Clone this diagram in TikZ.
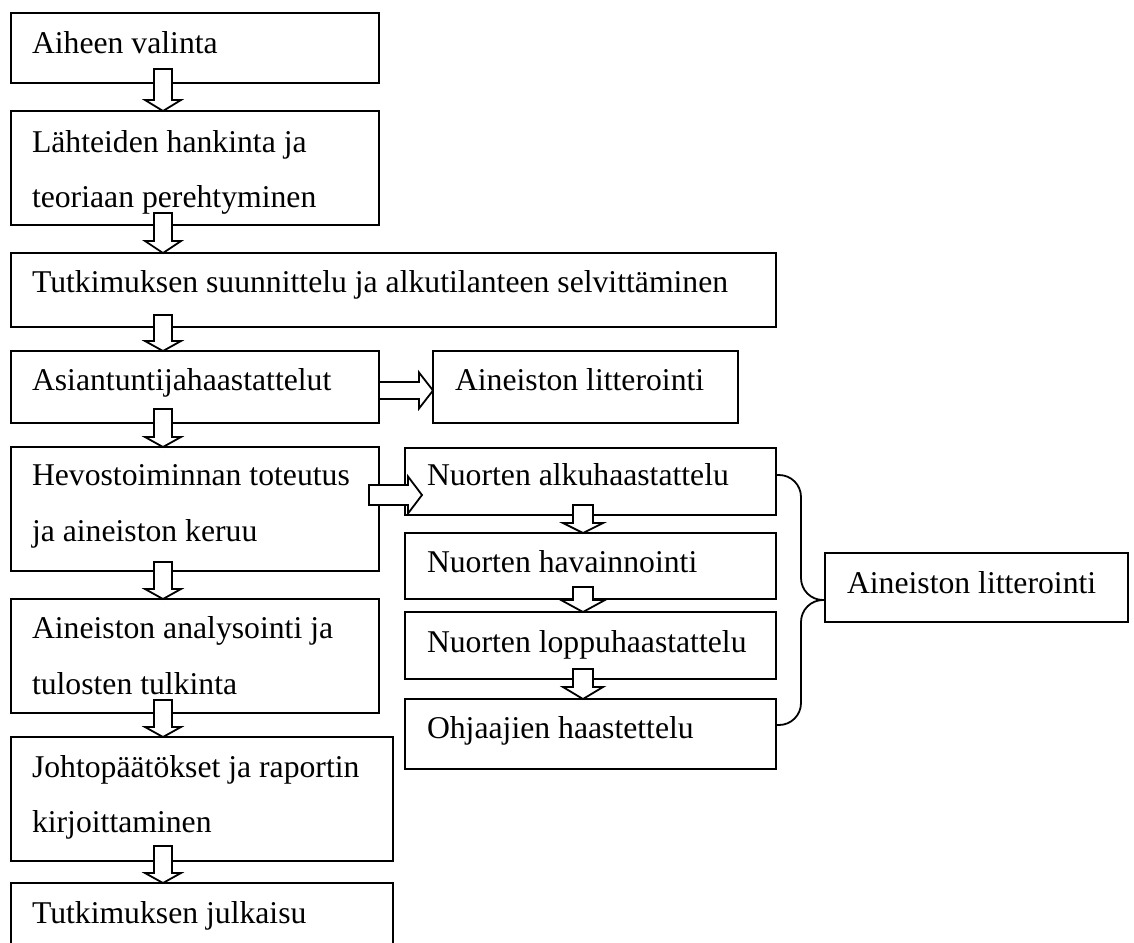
\documentclass[tikz,border=0pt]{standalone}
\usepackage{fontspec}
\setmainfont{Liberation Serif}
\usetikzlibrary{calc}
\begin{document}
\begin{tikzpicture}[x=1pt,y=1pt,
  box/.style={draw, line width=1.8pt, inner sep=0pt, outer sep=0pt, anchor=north west},
  txt/.style={anchor=base west, inner sep=0pt, outer sep=0pt, font=\fontsize{31.7pt}{38pt}\selectfont},
  blk/.style={draw, line width=1.8pt, fill=white, line join=miter},
  brc/.style={draw, line width=1.8pt, rounded corners=22pt},
  vblk/.style n args={4}{blk, to path={let \p1=(\tikztostart), \p2=(\tikztotarget) in
     (\x2-#1,\y1+#4) -- (\x2+#1,\y1+#4) -- (\x2+#1,\y2+#3) -- (\x2+#2,\y2+#3) -- (\x2,\y2)
     -- (\x2-#2,\y2+#3) -- (\x2-#1,\y2+#3) -- cycle}},
  hblk/.style n args={5}{blk, to path={let \p1=(\tikztostart), \p2=(\tikztotarget) in
     (\x1-#4,\y2-#1) -- (\x2+#5-#3,\y2-#1) -- (\x2+#5-#3,\y2-#2) -- (\x2+#5,\y2)
     -- (\x2+#5-#3,\y2+#2) -- (\x2+#5-#3,\y2+#1) -- (\x1-#4,\y2+#1) -- cycle}}
]
\useasboundingbox (0,0) rectangle (1134,-942);

% boxes
\node[box, minimum width=368pt, minimum height=70pt]  (b1) at (11,-13) {};
\node[box, minimum width=368pt, minimum height=114pt] (b2) at (11,-111) {};
\node[box, minimum width=765pt, minimum height=74pt]  (b3) at (11,-253) {};
\node[box, minimum width=368pt, minimum height=72pt]  (b4) at (11,-351) {};
\node[box, minimum width=305pt, minimum height=72pt]  (l1) at (433,-351) {};
\node[box, minimum width=368pt, minimum height=124pt] (b5) at (11,-447) {};
\node[box, minimum width=371pt, minimum height=67pt]  (r1) at (405,-448) {};
\node[box, minimum width=371pt, minimum height=66pt]  (r2) at (405,-533) {};
\node[box, minimum width=371pt, minimum height=67pt]  (r3) at (405,-612) {};
\node[box, minimum width=371pt, minimum height=70pt]  (r4) at (405,-699) {};
\node[box, minimum width=303pt, minimum height=69pt]  (l2) at (825,-553) {};
\node[box, minimum width=368pt, minimum height=114pt] (b6) at (11,-599) {};
\node[box, minimum width=382pt, minimum height=124pt] (b7) at (11,-737) {};
\node[box, minimum width=382pt, minimum height=80pt]  (b8) at (11,-883) {};

% helper coordinates
\coordinate (L) at (163,0);
\coordinate (R) at (583,0);
\coordinate (H1) at (0,-390.5);
\coordinate (H2) at (0,-495);
\coordinate (BT) at (0,-475);
\coordinate (BB) at (0,-725);
\coordinate (TIP) at (0,-600);
\coordinate (BX) at (801,0);

% vertical block arrows, left column
\draw[vblk={9pt}{18pt}{11pt}{14pt}] (b1.south -| L) to (b2.north -| L);
\draw[vblk={9pt}{18pt}{12pt}{12pt}] (b2.south -| L) to (b3.north -| L);
\draw[vblk={9pt}{18pt}{10pt}{12pt}] (b3.south -| L) to (b4.north -| L);
\draw[vblk={9pt}{18pt}{10pt}{14pt}] (b4.south -| L) to (b5.north -| L);
\draw[vblk={9pt}{18pt}{10pt}{9pt}]  (b5.south -| L) to (b6.north -| L);
\draw[vblk={9pt}{18pt}{10pt}{13pt}] (b6.south -| L) to (b7.north -| L);
\draw[vblk={9pt}{18pt}{10pt}{15pt}] (b7.south -| L) to (b8.north -| L);
% right column
\draw[vblk={10pt}{20pt}{10pt}{10pt}] (r1.south -| R) to (r2.north -| R);
\draw[vblk={10pt}{22pt}{12pt}{12pt}] (r2.south -| R) to (r3.north -| R);
\draw[vblk={10pt}{20pt}{12pt}{10pt}] (r3.south -| R) to (r4.north -| R);
% horizontal block arrows
\draw[hblk={8.5pt}{18pt}{14pt}{0pt}{0pt}] (b4.east |- H1) to (l1.west |- H1);
\draw[hblk={10pt}{18.5pt}{14pt}{10pt}{17pt}] (b5.east |- H2) to (r1.west |- H2);

% brace
\draw[brc] (r1.east |- BT) -- (BX |- BT) -- (BX |- TIP) -- (l2.west |- TIP);
\draw[brc] (l2.west |- TIP) -- (BX |- TIP) -- (BX |- BB) -- (r4.east |- BB);

% texts
\node[txt] (t1)  at (32,-53)  {Aiheen valinta};
\node[txt] (t2a) at (32,-152) {Lähteiden hankinta ja};
\node[txt] (t2b) at (32,-207) {teoriaan perehtyminen};
\node[txt] (t3)  at (32,-292) {Tutkimuksen suunnittelu ja alkutilanteen selvittäminen};
\node[txt] (t4)  at (32,-390) {Asiantuntijahaastattelut};
\node[txt] (tl1) at (455,-390) {Aineiston litterointi};
\node[txt] (t5a) at (32,-485) {Hevostoiminnan toteutus};
\node[txt] (t5b) at (32,-541) {ja aineiston keruu};
\node[txt] (tr1) at (427,-485) {Nuorten alkuhaastattelu};
\node[txt] (tr2) at (427,-572) {Nuorten havainnointi};
\node[txt] (tr3) at (427,-652) {Nuorten loppuhaastattelu};
\node[txt] (tr4) at (427,-738) {Ohjaajien haastettelu};
\node[txt] (tl2) at (847,-593) {Aineiston litterointi};
\node[txt] (t6a) at (32,-638) {Aineiston analysointi ja};
\node[txt] (t6b) at (32,-694) {tulosten tulkinta};
\node[txt] (t7a) at (32,-777) {Johtopäätökset ja raportin};
\node[txt] (t7b) at (32,-832) {kirjoittaminen};
\node[txt] (t8)  at (32,-923) {Tutkimuksen julkaisu};
\end{tikzpicture}
\end{document}
